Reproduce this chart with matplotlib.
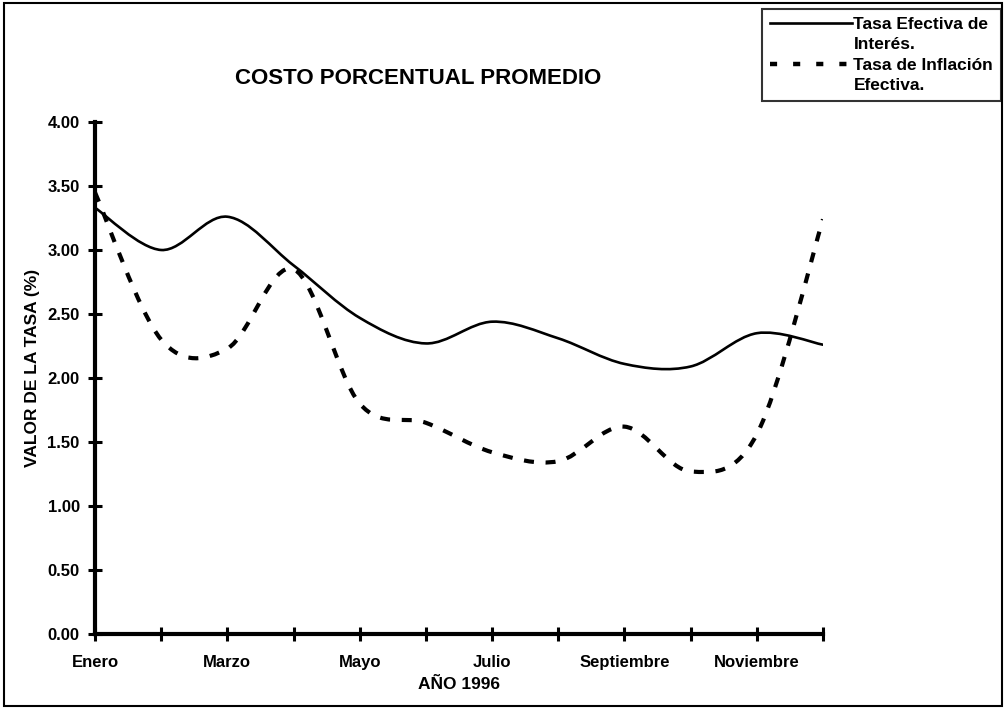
"""Costo porcentual promedio 1996: tasa efectiva de interés vs inflación."""
import matplotlib

matplotlib.use("Agg")
import matplotlib.pyplot as plt
from matplotlib.lines import Line2D
from matplotlib.patches import PathPatch, Rectangle
from matplotlib.path import Path

plt.rcParams["font.family"] = ["Liberation Sans", "DejaVu Sans"]
plt.rcParams["font.weight"] = "bold"

MESES = ["Enero", "", "Marzo", "", "Mayo", "", "Julio", "",
         "Septiembre", "", "Noviembre", ""]
TASA_INTERES = [3.33, 3.00, 3.26, 2.88, 2.47, 2.27,
                2.44, 2.31, 2.11, 2.09, 2.35, 2.26]
TASA_INFLACION = [3.45, 2.30, 2.23, 2.85, 1.80, 1.65,
                  1.42, 1.35, 1.62, 1.27, 1.56, 3.24]
Y_TICKS = [0.0, 0.5, 1.0, 1.5, 2.0, 2.5, 3.0, 3.5, 4.0]
LEYENDA = ["Tasa Efectiva de", "Interés.", "Tasa de Inflación", "Efectiva."]


def smooth_path(ys):
    """Curva suavizada tipo Excel (Catmull-Rom como Bezier cúbicas)."""
    pts = list(zip(range(len(ys)), ys))
    verts = [pts[0]]
    codes = [Path.MOVETO]
    n = len(pts)
    for i in range(n - 1):
        p0 = pts[max(i - 1, 0)]
        p1 = pts[i]
        p2 = pts[i + 1]
        p3 = pts[min(i + 2, n - 1)]
        c1 = (p1[0] + (p2[0] - p0[0]) / 6, p1[1] + (p2[1] - p0[1]) / 6)
        c2 = (p2[0] - (p3[0] - p1[0]) / 6, p2[1] - (p3[1] - p1[1]) / 6)
        verts += [c1, c2, p2]
        codes += [Path.CURVE4] * 3
    return Path(verts, codes)


fig = plt.figure(figsize=(10.08, 7.12), dpi=100)
ax = fig.add_axes([95 / 1008, 1 - 634 / 712, 728 / 1008, 512 / 712])

ax.add_patch(PathPatch(smooth_path(TASA_INTERES), fill=False,
                       edgecolor="black", lw=1.9, capstyle="round"))
ax.add_patch(PathPatch(smooth_path(TASA_INFLACION), fill=False,
                       edgecolor="black", lw=3.0, linestyle=(0, (2.4, 2.8))))

ax.set_xlim(0, len(MESES) - 1)
ax.set_ylim(0, 4)
ax.set_xticks(range(len(MESES)))
ax.set_xticklabels(MESES)
ax.set_yticks(Y_TICKS)
ax.set_yticklabels([f"{v:.2f}" for v in Y_TICKS])

for side in ("top", "right"):
    ax.spines[side].set_visible(False)
for side in ("left", "bottom"):
    ax.spines[side].set_linewidth(3.0)
ax.tick_params(axis="both", direction="inout", length=10, width=2.2,
               labelsize=12)
ax.tick_params(axis="x", pad=10)
ax.tick_params(axis="y", pad=6)
for lbl in ax.get_xticklabels() + ax.get_yticklabels():
    lbl.set_fontweight("bold")

ax.set_xlabel("AÑO 1996", fontsize=12.5, fontweight="bold", labelpad=5)
ax.set_ylabel("VALOR DE LA TASA (%)", fontsize=12.5, fontweight="bold")
ax.yaxis.set_label_coords(-0.075, 0.52)

fig.text(418 / 1008, 1 - 79 / 712, "COSTO PORCENTUAL PROMEDIO",
         ha="center", va="center", fontsize=16, fontweight="bold")

blank = Line2D([], [], color="none")
handles = [
    Line2D([], [], color="black", lw=1.9),
    blank,
    Line2D([], [], color="black", lw=3.2, linestyle=(0, (1.6, 3.6))),
    blank,
]
leg = fig.legend(handles, LEYENDA,
                 loc="upper right", bbox_to_anchor=(1001 / 1008, 1 - 9 / 712),
                 prop={"weight": "bold", "size": 12.5},
                 frameon=True, fancybox=False, handlelength=4.7,
                 handletextpad=0.1, borderpad=0.45, labelspacing=0.3,
                 borderaxespad=0)
leg.get_frame().set_edgecolor("black")
leg.get_frame().set_linewidth(1.5)

fig.patches.append(Rectangle((4 / 1008, 6 / 712), 998 / 1008, 703 / 712,
                             transform=fig.transFigure, fill=False,
                             edgecolor="black", lw=1.5))

fig.savefig("out.png", dpi=100)
